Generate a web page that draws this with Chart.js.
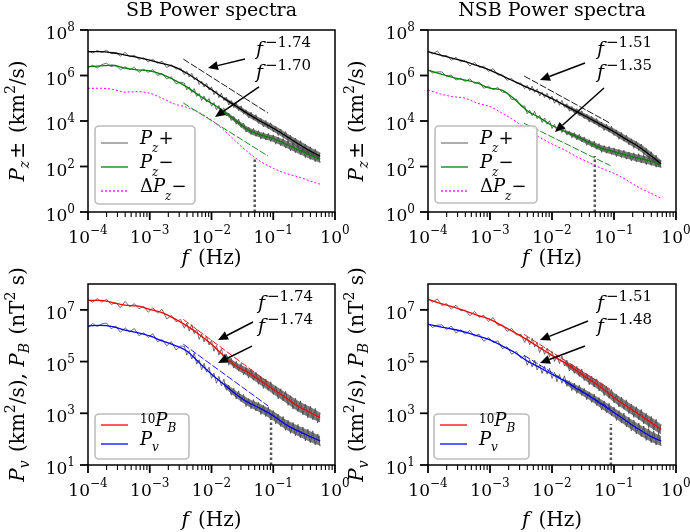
<!DOCTYPE html>
<html lang="en">
<head>
<meta charset="UTF-8">
<title>SB / NSB Power spectra</title>
<script src="https://cdn.jsdelivr.net/npm/chart.js@4"></script>
<style>
  html, body { margin: 0; padding: 0; background: #fff; }
  #wrap { position: relative; width: 690px; height: 532px; }
  #wrap canvas { position: absolute; left: 0; top: 0; }
</style>
</head>
<body>
<div id="wrap">
  <canvas id="c1" width="690" height="532"></canvas>
  <canvas id="c2" width="690" height="532"></canvas>
  <canvas id="c3" width="690" height="532"></canvas>
  <canvas id="c4" width="690" height="532"></canvas>
</div>
<script>
// all values are log10 (frequency in Hz, power in the panel's units)
const smoothLogF = [-4.0,-3.8,-3.6,-3.4,-3.2,-3.0,-2.8,-2.6,-2.4,-2.2,-2.0,-1.8,-1.6,-1.4,-1.2,-1.0,-0.8,-0.6,-0.4,-0.24];

const sbPzPlus   = [7.05,7.05,7.00,6.90,6.80,6.68,6.53,6.38,6.10,5.75,5.38,5.00,4.65,4.30,3.98,3.68,3.35,3.00,2.68,2.45];
const sbPzMinus  = [6.39,6.42,6.45,6.32,6.25,6.20,6.05,5.80,5.50,5.12,4.78,4.42,4.00,3.60,3.38,3.22,2.99,2.74,2.50,2.32];
const sbDeltaPz  = [5.44,5.44,5.39,5.27,5.29,5.22,5.00,4.75,4.60,4.37,4.04,3.60,3.09,2.61,2.21,1.92,1.70,1.55,1.36,1.22];
const nsbPzPlus  = [7.05,6.90,6.75,6.61,6.43,6.24,5.98,5.73,5.48,5.25,4.98,4.70,4.41,4.12,3.82,3.53,3.19,2.87,2.46,2.12];
const nsbPzMinus = [6.24,6.07,5.92,5.80,5.66,5.44,5.35,4.95,4.45,4.15,3.80,3.55,3.31,3.05,2.80,2.65,2.50,2.36,2.24,2.10];
const nsbDeltaPz = [5.36,5.19,5.07,5.00,4.78,4.63,4.34,4.01,3.60,3.28,2.99,2.73,2.43,2.17,1.92,1.70,1.41,1.08,0.82,0.60];
const sbPB10     = [7.37,7.37,7.28,7.18,7.15,7.02,6.89,6.66,6.38,6.05,5.67,5.22,4.83,4.57,4.25,3.93,3.61,3.28,3.03,2.83];
const sbPv       = [6.38,6.40,6.35,6.22,6.12,5.99,5.80,5.63,5.41,4.96,4.51,4.12,3.73,3.41,3.18,2.90,2.57,2.32,2.10,1.93];
const nsbPB10    = [7.41,7.25,7.12,6.96,6.79,6.63,6.38,6.12,5.84,5.54,5.24,4.96,4.64,4.31,3.99,3.61,3.28,2.96,2.64,2.38];
const nsbPv      = [6.44,6.34,6.25,6.14,5.99,5.84,5.60,5.35,5.02,4.77,4.51,4.25,3.95,3.67,3.35,3.03,2.70,2.38,2.10,1.93];

// raw (unsmoothed) spectra
const rawLogF = [-4.000,-3.925,-3.850,-3.775,-3.700,-3.625,-3.550,-3.475,-3.400,-3.325,
  -3.250,-3.175,-3.100,-3.025,-2.950,-2.875,-2.800,-2.725,-2.650,-2.575,
  -2.500,-2.44,-2.40,-2.36,-2.32,-2.28,-2.24,-2.20,-2.16,-2.12,
  -2.08,-2.04,-2.00,-1.96,-1.92,-1.88,-1.84,-1.80,-1.76,-1.72,
  -1.68,-1.64,-1.60,-1.56,-1.52,-1.48,-1.44,-1.40,-1.36,-1.32,
  -1.28,-1.24,-1.20,-1.16,-1.12,-1.08,-1.04,-1.00,-0.96,-0.92,
  -0.88,-0.84,-0.80,-0.76,-0.72,-0.68,-0.64,-0.60,-0.56,-0.52,
  -0.48,-0.44,-0.40,-0.36,-0.32,-0.28,-0.24];
const sbRawPlus = [7.07,6.99,7.10,7.01,7.11,6.96,7.01,6.85,7.02,6.82, 6.89,6.71,6.78,6.60,6.71,6.54,6.63,6.35,6.47,6.28,
  6.33,6.04,6.19,5.93,6.10,5.81,5.93,5.60,5.75,5.49, 5.66,5.36,5.50,5.16,5.33,5.03,5.23,4.90,5.05,4.70,
  4.90,4.59,4.79,4.46,4.67,4.30,4.49,4.13,4.39,4.04, 4.28,3.89,4.12,3.74,4.02,3.66,3.92,3.52,3.76,3.36,
  3.65,3.27,3.54,3.10,3.37,2.94,3.25,2.83,3.14,2.68, 2.99,2.53,2.87,2.44,2.77,2.31,2.60];
const sbRawMinus = [6.35,6.45,6.33,6.48,6.54,6.39,6.46,6.25,6.39,6.26, 6.36,6.14,6.27,6.14,6.26,6.01,6.09,5.85,5.94,5.64,
  5.71,5.67,5.37,5.50,5.25,5.42,5.08,5.21,4.91,5.10, 4.84,4.99,4.65,4.81,4.49,4.68,4.38,4.58,4.22,4.35,
  4.02,4.21,3.86,4.08,3.72,3.91,3.51,3.73,3.41,3.68, 3.33,3.58,3.20,3.50,3.16,3.46,3.10,3.39,2.98,3.29,
  2.91,3.23,2.81,3.11,2.69,3.02,2.60,2.94,2.51,2.83, 2.39,2.75,2.31,2.67,2.21,2.55,2.16];
const nsbRawPlus = [7.08,6.94,7.08,6.84,6.89,6.67,6.80,6.60,6.65,6.42, 6.58,6.36,6.41,6.18,6.30,6.02,6.03,5.79,5.87,5.66,
  5.67,5.42,5.57,5.33,5.53,5.26,5.41,5.10,5.27,5.03, 5.22,4.94,5.10,4.78,4.97,4.69,4.91,4.60,4.76,4.43,
  4.64,4.34,4.55,4.23,4.45,4.10,4.30,3.95,4.21,3.87, 4.11,3.73,3.96,3.58,3.86,3.51,3.77,3.37,3.61,3.20,
  3.50,3.11,3.38,2.95,3.22,2.80,3.11,2.70,2.99,2.52, 2.80,2.33,2.65,2.19,2.50,2.00,2.27];
const nsbRawMinus = [6.26,6.11,6.16,6.16,5.95,6.02,5.80,5.88,5.74,5.85, 5.65,5.71,5.44,5.53,5.38,5.47,5.27,5.25,4.95,4.96,
  4.65,4.66,4.32,4.47,4.23,4.42,4.10,4.24,3.94,4.13, 3.86,4.01,3.67,3.85,3.55,3.77,3.49,3.71,3.38,3.55,
  3.26,3.49,3.17,3.42,3.09,3.30,2.93,3.18,2.85,3.12, 2.76,3.01,2.62,2.92,2.58,2.89,2.53,2.82,2.43,2.75,
  2.39,2.72,2.32,2.64,2.24,2.60,2.20,2.56,2.16,2.50, 2.08,2.46,2.05,2.41,1.97,2.31,1.94];
const sbRawPB = [7.40,7.30,7.43,7.30,7.41,7.21,7.28,7.08,7.33,7.12, 7.24,7.04,7.14,6.91,7.08,6.88,7.02,6.65,6.78,6.54,
  6.63,6.29,6.49,6.18,6.43,6.08,6.26,5.86,6.06,5.76, 5.98,5.64,5.82,5.40,5.62,5.25,5.50,5.09,5.29,4.86,
  5.13,4.75,5.01,4.63,4.93,4.49,4.77,4.36,4.70,4.28, 4.59,4.12,4.43,3.96,4.32,3.88,4.22,3.73,4.06,3.56,
  3.95,3.48,3.85,3.31,3.68,3.16,3.58,3.07,3.48,2.94, 3.36,2.82,3.27,2.75,3.19,2.63,3.02];
const sbRawPv = [6.33,6.47,6.36,6.46,6.49,6.27,6.37,6.13,6.31,6.14, 6.28,6.00,6.12,5.93,6.08,5.77,5.85,5.61,5.77,5.45,
  5.60,5.59,5.25,5.42,5.10,5.33,4.90,5.07,4.69,4.93, 4.59,4.78,4.35,4.56,4.16,4.43,4.06,4.32,3.89,4.09,
  3.70,3.97,3.55,3.87,3.45,3.73,3.26,3.57,3.17,3.53, 3.09,3.43,2.95,3.31,2.87,3.24,2.77,3.11,2.59,2.97,
  2.49,2.88,2.34,2.73,2.22,2.65,2.13,2.57,2.05,2.47, 1.93,2.39,1.86,2.32,1.77,2.20,1.73];
const nsbRawPB = [7.43,7.30,7.42,7.17,7.24,7.03,7.18,6.97,6.99,6.77, 6.94,6.71,6.79,6.55,6.70,6.40,6.42,6.17,6.28,6.03,
  6.05,5.74,5.95,5.65,5.90,5.56,5.74,5.35,5.57,5.28, 5.52,5.19,5.39,5.00,5.26,4.92,5.21,4.83,5.05,4.63,
  4.91,4.54,4.82,4.42,4.71,4.26,4.53,4.10,4.44,4.02, 4.33,3.86,4.17,3.68,4.04,3.58,3.92,3.41,3.73,3.24,
  3.62,3.16,3.52,2.99,3.35,2.84,3.25,2.75,3.15,2.59, 3.00,2.44,2.88,2.35,2.77,2.20,2.57];
const nsbRawPv = [6.47,6.32,6.41,6.42,6.24,6.37,6.11,6.23,6.07,6.20, 5.98,6.06,5.78,5.93,5.74,5.80,5.50,5.57,5.29,5.39,
  5.13,5.23,4.86,5.07,4.79,5.06,4.67,4.88,4.54,4.82, 4.51,4.74,4.35,4.59,4.22,4.50,4.16,4.45,4.04,4.26,
  3.88,4.17,3.77,4.09,3.69,3.97,3.52,3.83,3.42,3.75, 3.30,3.61,3.12,3.48,3.02,3.39,2.90,3.24,2.72,3.10,
  2.62,3.01,2.47,2.85,2.32,2.74,2.20,2.63,2.09,2.51, 1.95,2.41,1.86,2.32,1.77,2.20,1.73];

// spread of the raw spectra at high frequency (upper / lower edge)
const bandLogF = [-1.8,-1.6,-1.4,-1.2,-1.0,-0.8,-0.6,-0.4,-0.24];
const sbBandPlusHi  = [5.07,4.75,4.42,4.11,3.82,3.50,3.16,2.85,2.61];
const sbBandPlusLo  = [4.93,4.55,4.18,3.85,3.54,3.20,2.84,2.51,2.29];
const sbBandMinusHi = [4.49,4.10,3.72,3.51,3.36,3.14,2.90,2.67,2.48];
const sbBandMinusLo = [4.35,3.90,3.48,3.25,3.08,2.84,2.58,2.33,2.16];
const nsbBandPlusHi  = [4.77,4.51,4.24,3.95,3.67,3.34,3.03,2.63,2.28];
const nsbBandPlusLo  = [4.63,4.31,4.00,3.69,3.39,3.04,2.71,2.29,1.96];
const nsbBandMinusHi = [3.62,3.41,3.17,2.93,2.79,2.65,2.52,2.41,2.26];
const nsbBandMinusLo = [3.48,3.21,2.93,2.67,2.51,2.35,2.20,2.07,1.94];
const sbBandPBHi  = [5.31,4.96,4.72,4.42,4.11,3.80,3.48,3.24,3.02];
const sbBandPBLo  = [5.13,4.70,4.42,4.08,3.75,3.42,3.08,2.82,2.64];
const sbBandPvHi  = [4.21,3.86,3.56,3.35,3.08,2.76,2.52,2.31,2.12];
const sbBandPvLo  = [4.03,3.60,3.26,3.01,2.72,2.38,2.12,1.89,1.74];
const nsbBandPBHi = [5.05,4.77,4.46,4.16,3.79,3.47,3.16,2.85,2.57];
const nsbBandPBLo = [4.87,4.51,4.16,3.82,3.43,3.09,2.76,2.43,2.19];
const nsbBandPvHi = [4.34,4.08,3.82,3.52,3.21,2.89,2.58,2.31,2.12];
const nsbBandPvLo = [4.16,3.82,3.52,3.18,2.85,2.51,2.18,1.89,1.74];

// power-law fits: [log f start, log f end] and [log P start, log P end]
const sbFitLogF  = [-2.456, -1.085];
const sbFitPlus  = [6.72, 4.35];
const sbFitMinus = [4.79, 2.46];
const nsbFitLogF  = [-2.45, -1.06];
const nsbFitPlus  = [5.98, 3.90];
const nsbFitMinus = [3.90, 2.04];
const sbFitLogF2 = [-2.456, -1.08];
const sbFitPB    = [6.63, 4.19];
const sbFitPv    = [5.67, 3.28];
const nsbFitPB   = [6.05, 3.93];
const nsbFitPv   = [5.24, 3.18];

// vertical dotted markers: [log f, log P top]
const sbMarkTop  = [-1.30, 2.37];
const nsbMarkTop = [-1.31, 2.46];
const sbMarkBot  = [-1.036, 2.82];
const nsbMarkBot = [-1.05, 2.59];

// tick values
const xMajor = [1e-4, 1e-3, 1e-2, 1e-1, 1];
const xMajorExp = ['\u22124', '\u22123', '\u22122', '\u22121', '0'];
const xMinor = [2e-4,3e-4,4e-4,5e-4,6e-4,7e-4,8e-4,9e-4, 2e-3,3e-3,4e-3,5e-3,6e-3,7e-3,8e-3,9e-3,
  2e-2,3e-2,4e-2,5e-2,6e-2,7e-2,8e-2,9e-2, 0.2,0.3,0.4,0.5,0.6,0.7,0.8,0.9];
const yTopTicks = [1, 1e2, 1e4, 1e6, 1e8];
const yTopExp = ['0', '2', '4', '6', '8'];
const yBotTicks = [1e1, 1e3, 1e5, 1e7];
const yBotExp = ['1', '3', '5', '7'];

const FONT = '"DejaVu Serif", serif';
const R = (t, s, dy, gap) => ({ t, font: s + 'px ' + FONT, dy: dy || 0, gap: gap || 0 });
const I = (t, s, dy, gap) => ({ t, font: 'italic ' + s + 'px ' + FONT, dy: dy || 0, gap: gap || 0 });

const pts = (lf, lv) => lf.map((f, i) => ({ x: Math.pow(10, f), y: Math.pow(10, lv[i]) }));

function richWidth(ctx, parts) {
  let w = 0;
  parts.forEach(p => { ctx.font = p.font; w += ctx.measureText(p.t).width + p.gap; });
  return w;
}
function drawRich(ctx, parts, x, y) {
  parts.forEach(p => { ctx.font = p.font; ctx.fillText(p.t, x, y + p.dy); x += ctx.measureText(p.t).width + p.gap; });
}
function arrow(ctx, x1, y1, x2, y2) {
  const a = Math.atan2(y2 - y1, x2 - x1), L = 10, W = 4.5;
  const bx = x2 - L * Math.cos(a), by = y2 - L * Math.sin(a);
  ctx.beginPath(); ctx.moveTo(x1, y1); ctx.lineTo(bx, by); ctx.lineWidth = 1.5; ctx.stroke();
  ctx.beginPath(); ctx.moveTo(x2, y2);
  ctx.lineTo(bx + W * Math.sin(a), by - W * Math.cos(a));
  ctx.lineTo(bx - W * Math.sin(a), by + W * Math.cos(a));
  ctx.closePath(); ctx.fill();
}

const smooth = (lv, color) => ({ data: pts(smoothLogF, lv), borderColor: color, borderWidth: 1.3, cubicInterpolationMode: 'monotone', order: 1 });
const raw = (lv) => ({ data: pts(rawLogF, lv), borderColor: 'rgba(75,75,75,0.8)', borderWidth: 1, tension: 0, order: 5 });
const bandHi = (lv) => ({ data: pts(bandLogF, lv), borderWidth: 0, borderColor: 'rgba(0,0,0,0)',
  backgroundColor: 'rgba(80,80,80,0.75)', fill: '+1', cubicInterpolationMode: 'monotone', order: 6 });
const bandLo = (lv) => ({ data: pts(bandLogF, lv), borderWidth: 0, borderColor: 'rgba(0,0,0,0)',
  cubicInterpolationMode: 'monotone', order: 6 });
const fit = (lf, lv, color) => ({ data: pts(lf, lv), borderColor: color, borderWidth: 0.9, borderDash: [7, 2], order: 3 });
const mark = (m, yMin) => ({ data: [{ x: Math.pow(10, m[0]), y: yMin }, { x: Math.pow(10, m[0]), y: Math.pow(10, m[1]) }],
  borderColor: '#555', borderWidth: 2.5, borderDash: [2.5, 2.5], order: 2 });
const delta = (lv) => Object.assign(smooth(lv, '#ff00ff'), { borderWidth: 1, borderDash: [2, 2], order: 2 });

const topYLabel = [I('P', 20), I('z', 14, 5, 2), R('\u00b1', 20, 0, 9), R('(km', 20), R('2', 14, -9), R('/s)', 20)];
const botYLabel = [I('P', 20), I('v', 14, 5, 2), R(' (km', 20), R('2', 14, -9), R('/s), ', 20),
  I('P', 20), I('B', 14, 5, 2), R(' (nT', 20), R('2', 14, -9), R(' s)', 20)];

const legTop = [
  { parts: [I('P', 18), I('z', 12, 8), R('+', 18)], color: '#808080', dash: [] },
  { parts: [I('P', 18), I('z', 12, 8), R('\u2212', 18)], color: '#008000', dash: [] },
  { parts: [R('\u0394', 18), I('P', 18), I('z', 12, 8), R('\u2212', 18)], color: '#ff00ff', dash: [2, 2] }
];
const legBot = [
  { parts: [R('10', 12, -3), I('P', 18), I('B', 12, 6)], color: '#ff0000', dash: [] },
  { parts: [I('P', 18), I('v', 12, 6)], color: '#0000ff', dash: [] }
];

const panels = [
  { id: 'c1', box: [88, 30, 335, 212], yMin: 1, yMax: 1e8, yTicks: yTopTicks, yExp: yTopExp,
    title: 'SB Power spectra', ylabel: topYLabel, ylabelX: 24, xTitleY: 264, legend: legTop, legBox: [95, 126, 195, 204],
    datasets: [smooth(sbPzPlus, '#000'), smooth(sbPzMinus, '#008000'), delta(sbDeltaPz),
      fit(sbFitLogF, sbFitPlus, '#000'), fit(sbFitLogF, sbFitMinus, '#008000'), mark(sbMarkTop, 1),
      raw(sbRawPlus), raw(sbRawMinus),
      bandHi(sbBandPlusHi), bandLo(sbBandPlusLo), bandHi(sbBandMinusHi), bandLo(sbBandMinusLo)],
    notes: [{ at: [-1.279, 6.90], exp: '\u22121.74', from: [-1.457, 6.725], to: [-2.057, 6.33] },
            { at: [-1.279, 5.89], exp: '\u22121.70', from: [-1.231, 5.495], to: [-1.943, 4.176] }] },
  { id: 'c2', box: [428, 30, 676, 212], yMin: 1, yMax: 1e8, yTicks: yTopTicks, yExp: yTopExp,
    title: 'NSB Power spectra', ylabel: topYLabel, ylabelX: 363, xTitleY: 264, legend: legTop, legBox: [435, 126, 537, 203],
    datasets: [smooth(nsbPzPlus, '#000'), smooth(nsbPzMinus, '#008000'), delta(nsbDeltaPz),
      fit(nsbFitLogF, nsbFitPlus, '#000'), fit(nsbFitLogF, nsbFitMinus, '#008000'), mark(nsbMarkTop, 1),
      raw(nsbRawPlus), raw(nsbRawMinus),
      bandHi(nsbBandPlusHi), bandLo(nsbBandPlusLo), bandHi(nsbBandMinusHi), bandLo(nsbBandMinusLo)],
    notes: [{ at: [-1.274, 6.90], exp: '\u22121.51', from: [-1.468, 6.55], to: [-2.194, 5.80] },
            { at: [-1.274, 5.89], exp: '\u22121.35', from: [-1.161, 5.45], to: [-1.952, 3.52] }] },
  { id: 'c3', box: [88, 284, 335, 465], yMin: 1e1, yMax: 1e8, yTicks: yBotTicks, yExp: yBotExp,
    title: '', ylabel: botYLabel, ylabelX: 24, xTitleY: 526, legend: legBot, legBox: [95, 414, 189, 459],
    datasets: [smooth(sbPB10, '#ff0000'), smooth(sbPv, '#0000ff'),
      fit(sbFitLogF2, sbFitPB, '#ff0000'), fit(sbFitLogF2, sbFitPv, '#0000ff'), mark(sbMarkBot, 1e1),
      raw(sbRawPB), raw(sbRawPv),
      bandHi(sbBandPBHi), bandLo(sbBandPBLo), bandHi(sbBandPvHi), bandLo(sbBandPvLo)],
    notes: [{ at: [-1.247, 7.03], exp: '\u22121.74', from: [-1.328, 6.53], to: [-1.895, 5.83] },
            { at: [-1.247, 6.14], exp: '\u22121.74', from: [-1.344, 5.60], to: [-1.895, 4.945] }] },
  { id: 'c4', box: [428, 284, 676, 465], yMin: 1e1, yMax: 1e8, yTicks: yBotTicks, yExp: yBotExp,
    title: '', ylabel: botYLabel, ylabelX: 363, xTitleY: 526, legend: legBot, legBox: [434, 414, 529, 459],
    datasets: [smooth(nsbPB10, '#ff0000'), smooth(nsbPv, '#0000ff'),
      fit(nsbFitLogF, nsbFitPB, '#ff0000'), fit(nsbFitLogF, nsbFitPv, '#0000ff'), mark(nsbMarkBot, 1e1),
      raw(nsbRawPB), raw(nsbRawPv),
      bandHi(nsbBandPBHi), bandLo(nsbBandPBLo), bandHi(nsbBandPvHi), bandLo(nsbBandPvLo)],
    notes: [{ at: [-1.274, 7.03], exp: '\u22121.51', from: [-1.419, 6.57], to: [-2.194, 5.83] },
            { at: [-1.274, 6.14], exp: '\u22121.48', from: [-1.468, 5.60], to: [-2.194, 4.945] }] }
];

function decor(p) {
  return {
    id: 'decor',
    afterDraw(chart) {
      const ctx = chart.ctx, a = chart.chartArea, xs = chart.scales.x, ys = chart.scales.y;
      const X = lf => xs.getPixelForValue(Math.pow(10, lf));
      const Y = lv => ys.getPixelForValue(Math.pow(10, lv));
      ctx.save();
      ctx.fillStyle = '#000'; ctx.strokeStyle = '#000';
      ctx.textBaseline = 'alphabetic'; ctx.textAlign = 'left';

      // frame
      ctx.lineWidth = 1.5;
      ctx.strokeRect(a.left, a.top, a.right - a.left, a.bottom - a.top);

      // x ticks
      ctx.lineWidth = 1.1;
      xMinor.forEach(v => {
        const px = xs.getPixelForValue(v);
        ctx.beginPath(); ctx.moveTo(px, a.bottom); ctx.lineTo(px, a.bottom + 5); ctx.stroke();
      });
      ctx.lineWidth = 1.8;
      xMajor.forEach((v, i) => {
        const px = xs.getPixelForValue(v);
        ctx.beginPath(); ctx.moveTo(px, a.bottom); ctx.lineTo(px, a.bottom + 8); ctx.stroke();
        const parts = [R('10', 17), R(xMajorExp[i], 12, -9)];
        drawRich(ctx, parts, px - richWidth(ctx, parts) / 2, a.bottom + 31);
      });
      // y ticks
      p.yTicks.forEach((v, i) => {
        const py = ys.getPixelForValue(v);
        ctx.lineWidth = 1.8;
        ctx.beginPath(); ctx.moveTo(a.left - 8, py); ctx.lineTo(a.left, py); ctx.stroke();
        const parts = [R('10', 17), R(p.yExp[i], 12, -8)];
        drawRich(ctx, parts, a.left - 13 - richWidth(ctx, parts), py + 9);
      });

      // x title
      const xt = [I('f', 20, 0, 9), R('(Hz)', 20)];
      drawRich(ctx, xt, (a.left + a.right) / 2 - richWidth(ctx, xt) / 2, p.xTitleY);

      // y title
      ctx.save();
      ctx.translate(p.ylabelX, (a.top + a.bottom) / 2);
      ctx.rotate(-Math.PI / 2);
      drawRich(ctx, p.ylabel, -richWidth(ctx, p.ylabel) / 2, 0);
      ctx.restore();

      // panel title
      if (p.title) {
        const tt = [R(p.title, 19)];
        drawRich(ctx, tt, (a.left + a.right) / 2 - richWidth(ctx, tt) / 2, 16);
      }

      // fit annotations
      p.notes.forEach(n => {
        drawRich(ctx, [I('f', 19, 0, 2), R(n.exp, 15, -8)], X(n.at[0]), Y(n.at[1]));
        arrow(ctx, X(n.from[0]), Y(n.from[1]), X(n.to[0]), Y(n.to[1]));
      });

      // legend
      const b = p.legBox;
      ctx.beginPath();
      ctx.roundRect(b[0], b[1], b[2] - b[0], b[3] - b[1], 4);
      ctx.fillStyle = 'rgba(255,255,255,0.85)'; ctx.fill();
      ctx.lineWidth = 1.6; ctx.strokeStyle = '#bdbdbd'; ctx.stroke();
      const rows = p.legend.length === 3 ? [17, 41, 65] : [11, 30];
      p.legend.forEach((e, i) => {
        const ly = b[1] + rows[i];
        ctx.strokeStyle = e.color; ctx.lineWidth = 1.3; ctx.setLineDash(e.dash);
        ctx.beginPath(); ctx.moveTo(b[0] + 6, ly); ctx.lineTo(b[0] + 33, ly); ctx.stroke();
        ctx.setLineDash([]);
        ctx.fillStyle = '#000';
        drawRich(ctx, e.parts, b[0] + 45, ly + 1);
      });
      ctx.restore();
    }
  };
}

panels.forEach(p => {
  new Chart(document.getElementById(p.id), {
    type: 'line',
    data: { datasets: p.datasets.map(d => Object.assign({ pointRadius: 0, fill: false }, d)) },
    options: {
      responsive: false, animation: false, events: [], devicePixelRatio: 1,
      layout: { padding: { left: p.box[0], top: p.box[1], right: 690 - p.box[2], bottom: 532 - p.box[3] } },
      plugins: { legend: { display: false }, tooltip: { enabled: false }, title: { display: false } },
      scales: {
        x: { type: 'logarithmic', min: 1e-4, max: 1, display: false },
        y: { type: 'logarithmic', min: p.yMin, max: p.yMax, display: false }
      }
    },
    plugins: [decor(p)]
  });
});
</script>
</body>
</html>
